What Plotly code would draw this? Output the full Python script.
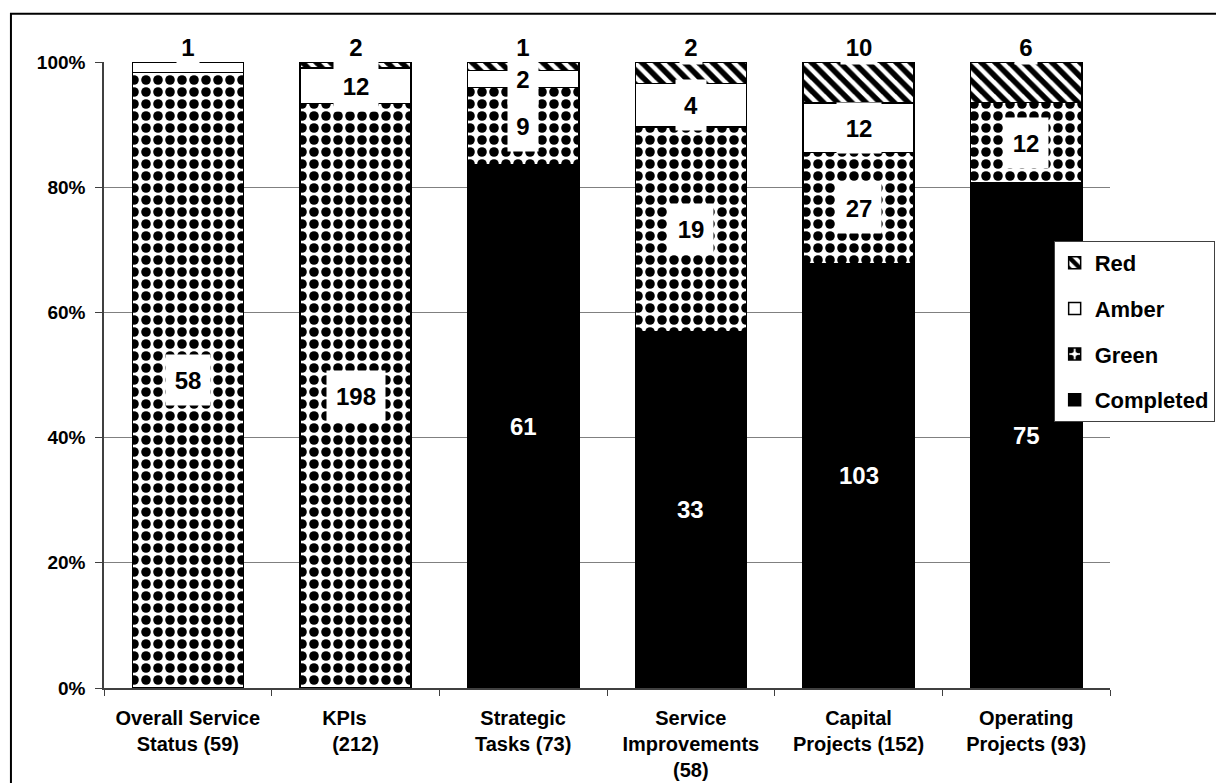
import plotly.graph_objects as go

categories = [
    "Overall Service<br>Status (59)",
    "KPIs\u00a0\u00a0\u00a0\u00a0<br>(212)",
    "Strategic<br>Tasks (73)",
    "Service<br>Improvements<br>(58)",
    "Capital<br>Projects (152)",
    "Operating<br>Projects (93)",
]
completed = [0, 0, 61, 33, 103, 75]
green = [58, 198, 9, 19, 27, 12]
amber = [1, 12, 2, 4, 12, 0]
red = [0, 2, 1, 2, 10, 6]

series_names = ["Completed", "Green", "Amber", "Red"]
series_values = [completed, green, amber, red]
legend_ranks = {"Red": 1, "Amber": 2, "Green": 3, "Completed": 4}

FONT = "Liberation Sans, Arial, sans-serif"

styles = {
    "Completed": dict(color="black"),
    "Green": dict(color="white", pattern=dict(shape=".", fgcolor="black", bgcolor="white", fgopacity=1,
                                              fillmode="replace", size=12, solidity=0.5)),
    "Amber": dict(color="white"),
    "Red": dict(color="white", pattern=dict(shape="\\", fgcolor="black", bgcolor="white", fgopacity=1,
                                            fillmode="replace", size=10, solidity=0.55)),
}

fig = go.Figure()
for name, vals in zip(series_names, series_values):
    m = dict(styles[name])
    m["line"] = dict(color="black", width=1.5)
    fig.add_bar(x=categories, y=vals, name=name, marker=m, legendgroup=name,
                legendrank=legend_ranks[name], hoverinfo="skip")

annotations = []
for i, cat in enumerate(categories):
    vals = [s[i] for s in series_values]
    total = sum(vals)
    top = max(j for j, v in enumerate(vals) if v > 0)
    cum = 0
    for j, v in enumerate(vals):
        if v > 0:
            txt = str(v)
            if j == top:
                annotations.append(dict(x=cat, y=100.0, yshift=15, text=txt, showarrow=False,
                                        font=dict(family=FONT, size=24, color="black", weight="bold"),
                                        bgcolor="white", width=14 * len(txt) + 6, height=32))
            else:
                mid = (cum + v / 2) / total * 100
                if series_names[j] == "Completed":
                    annotations.append(dict(x=cat, y=mid, text=txt, showarrow=False,
                                            font=dict(family=FONT, size=24, color="white", weight="bold")))
                else:
                    annotations.append(dict(x=cat, y=mid, text=txt, showarrow=False,
                                            font=dict(family=FONT, size=24, color="black", weight="bold"),
                                            bgcolor="white", width=14 * len(txt) + 14, height=48))
        cum += v

fig.update_layout(
    width=1216, height=783,
    margin=dict(l=104, r=106, t=62, b=95, autoexpand=False),
    barmode="stack", barnorm="percent", bargap=0.337,
    plot_bgcolor="white", paper_bgcolor="white",
    font=dict(family=FONT, color="black"),
    showlegend=True,
    legend=dict(x=0.944, y=0.714, xanchor="left", yanchor="top", bgcolor="white",
                bordercolor="#404040", borderwidth=1, traceorder="grouped",
                tracegroupgap=14, font=dict(family=FONT, size=22, color="black", weight="bold")),
    annotations=annotations,
    shapes=[dict(type="rect", xref="paper", yref="paper", x0=-0.0925, x1=1.3, y0=-0.4, y1=1.077,
                 line=dict(color="black", width=2), fillcolor="rgba(0,0,0,0)", layer="below")],
)
fig.update_yaxes(range=[0, 100], dtick=20, ticksuffix="%", showgrid=True, gridcolor="#808080", gridwidth=1,
                 showline=True, linecolor="#404040", linewidth=1.5, ticks="outside", ticklen=7,
                 tickcolor="#404040", zeroline=False, ticklabelstandoff=6,
                 tickfont=dict(family=FONT, size=19, color="black", weight="bold"))
fig.update_xaxes(showline=True, linecolor="#404040", linewidth=1.5, ticks="outside", tickson="boundaries",
                 ticklen=6, tickcolor="#404040", ticklabelstandoff=11,
                 tickfont=dict(family=FONT, size=20, color="black", weight="bold"))

fig.write_html("out.html")
